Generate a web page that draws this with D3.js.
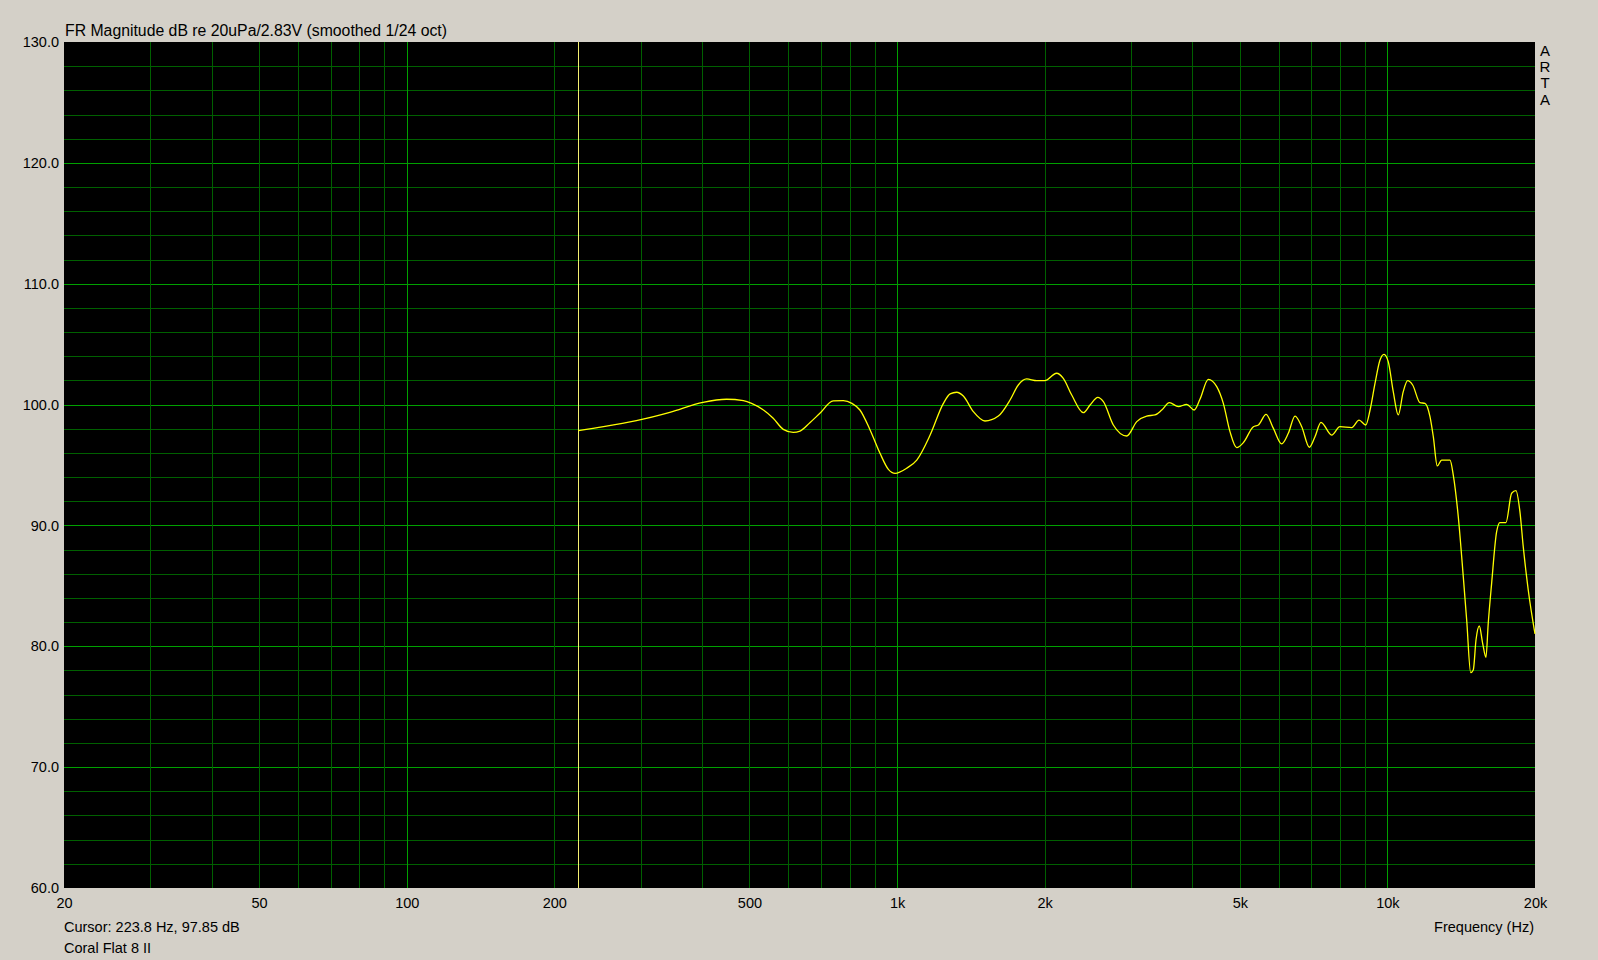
<!DOCTYPE html>
<html>
<head>
<meta charset="utf-8">
<script src="https://cdn.jsdelivr.net/npm/d3@7/dist/d3.min.js"></script>
<style>
  html, body { margin: 0; padding: 0; background: #d4d0c8; overflow: hidden; }
  svg { display: block; }
  text { font-family: "Liberation Sans", Arial, sans-serif; fill: #000; }
</style>
</head>
<body>
<svg id="chart" width="1598" height="960"></svg>
<script>
// ---- Data ----
const freqHz = [223.8, 252, 294, 344, 402, 449, 486, 505, 534, 559, 586, 614, 634, 664, 696, 741, 777, 809, 840, 881, 923, 960, 991,
  1046, 1097, 1168, 1243, 1283, 1323, 1365, 1431, 1511, 1609, 1700, 1767, 1838, 1927, 2000, 2115, 2183, 2271, 2398, 2475, 2567, 2635,
  2761, 2940, 3082, 3229, 3358, 3466, 3592, 3747, 3897, 4034, 4147, 4313, 4487, 4628, 4775, 4928, 5084, 5330, 5456, 5657, 5855, 6087,
  6280, 6481, 6688, 6930, 7117, 7321, 7697, 8003, 8457, 8754, 9033, 9218, 9435, 9659, 9842, 10040, 10279, 10523, 10773, 10999, 11260,
  11654, 11931, 12214, 12406, 12639, 12901, 13417, 13626, 13950, 14281, 14511, 14786, 14968, 15160, 15396, 15641, 15885, 16057, 16315,
  16703, 16963, 17449, 17921, 18288, 18633, 18925, 19375, 20000];
const magDb = [97.85, 98.17, 98.67, 99.36, 100.19, 100.44, 100.32, 100.10, 99.55, 98.87, 97.95, 97.70, 97.81, 98.50, 99.28, 100.30, 100.32, 100.10, 99.55, 97.90, 95.97, 94.64, 94.31,
  94.73, 95.41, 97.48, 100.10, 100.88, 101.02, 100.71, 99.41, 98.64, 99.05, 100.38, 101.62, 102.12, 101.98, 101.98, 102.59, 102.17, 100.79, 99.33, 99.96, 100.60, 100.24,
  98.31, 97.40, 98.59, 99.05, 99.14, 99.55, 100.16, 99.83, 100.02, 99.55, 100.44, 102.09, 101.48, 100.10, 97.76, 96.44, 96.85, 98.17, 98.31, 99.19, 98.03, 96.74,
  97.62, 99.05, 98.17, 96.47, 97.34, 98.53, 97.48, 98.17, 98.10, 98.72, 98.31, 99.55, 101.76, 103.69, 104.16, 103.55, 101.07, 99.14, 101.07, 101.98, 101.62,
  100.16, 100.10, 99.00, 97.34, 94.92, 95.41, 95.41, 94.17, 90.72, 85.76, 82.18, 77.82, 78.04, 80.52, 81.68, 80.25, 79.09, 81.90, 85.21,
  89.48, 90.23, 90.23, 92.66, 92.88, 91.14, 88.25, 84.66, 81.02];

const xTickValues = [20, 50, 100, 200, 500, 1000, 2000, 5000, 10000, 20000];
const xTickLabels = ["20", "50", "100", "200", "500", "1k", "2k", "5k", "10k", "20k"];
const yTickValues = [60, 70, 80, 90, 100, 110, 120, 130];
const cursorFreq = 223.8;
const cursorDb = 97.85;
const titleText = "FR Magnitude dB re 20uPa/2.83V (smoothed 1/24 oct)";
const cursorText = "Cursor: 223.8 Hz, 97.85 dB";
const deviceName = "Coral Flat 8 II";
const xAxisTitle = "Frequency (Hz)";
const brand = ["A", "R", "T", "A"];

// ---- Layout ----
const L = 64, R = 1535, T = 42, B = 888;
const svg = d3.select("#chart");
const x = d3.scaleLog().domain([20, 20000]).range([L, R]);
const y = d3.scaleLinear().domain([60, 130]).range([B, T]);
const px = v => Math.round(v) + 0.5;

svg.append("rect").attr("x", L).attr("y", T).attr("width", R - L).attr("height", B - T).attr("fill", "#000");

// grid frequencies
const gridF = [];
[10, 100, 1000].forEach(dec => { for (let k = 1; k <= 9; k++) { const f = dec * k; if (f >= 20 && f <= 20000) gridF.push(f); } });
gridF.push(10000, 20000);
const majorF = new Set([100, 1000, 10000]);
const gridDb = d3.range(60, 131, 2);

const g = svg.append("g").attr("shape-rendering", "crispEdges");
g.selectAll("line.h").data(gridDb.filter(d => d > 60 && d < 130)).join("line")
  .attr("x1", L).attr("x2", R)
  .attr("y1", d => px(y(d))).attr("y2", d => px(y(d)))
  .attr("stroke", d => d % 10 === 0 ? "#00a000" : "#006000").attr("stroke-width", 1);
g.selectAll("line.v").data(gridF.filter(f => f > 20 && f < 20000)).join("line")
  .attr("y1", T).attr("y2", B)
  .attr("x1", d => px(x(d))).attr("x2", d => px(x(d)))
  .attr("stroke", d => majorF.has(d) ? "#00a000" : "#006000").attr("stroke-width", 1);

// cursor line
g.append("line").attr("x1", px(x(cursorFreq))).attr("x2", px(x(cursorFreq)))
  .attr("y1", T).attr("y2", B).attr("stroke", "#f4f070").attr("stroke-width", 1);

// curve
const pts = freqHz.map((f, i) => [f, magDb[i]]);
const line = d3.line().x(d => x(d[0])).y(d => y(d[1])).curve(d3.curveMonotoneX);
svg.append("path").attr("d", line(pts)).attr("fill", "none")
  .attr("stroke", "#ffff00").attr("stroke-width", 1.3).attr("stroke-linejoin", "round");

// axes
const xAxis = d3.axisBottom(x).tickValues(xTickValues)
  .tickFormat((d, i) => xTickLabels[i]).tickSize(0).tickPadding(10);
const xa = svg.append("g").attr("transform", `translate(0,${B})`).call(xAxis);
xa.select(".domain").remove();
xa.selectAll("text").attr("font-size", "14.5px").attr("font-family", "Liberation Sans, Arial, sans-serif").attr("fill", "#000");

const yAxis = d3.axisLeft(y).tickValues(yTickValues).tickFormat(d3.format(".1f")).tickSize(0).tickPadding(5);
const ya = svg.append("g").attr("transform", `translate(${L},0)`).call(yAxis);
ya.select(".domain").remove();
ya.selectAll("text").attr("font-size", "14.5px").attr("font-family", "Liberation Sans, Arial, sans-serif").attr("fill", "#000");

// texts
svg.append("text").attr("x", 65).attr("y", 36).attr("font-size", "15.8px").text(titleText);
svg.append("text").attr("x", 64).attr("y", 932).attr("font-size", "14.5px").text(cursorText);
svg.append("text").attr("x", 64).attr("y", 953).attr("font-size", "14.5px").text(deviceName);
svg.append("text").attr("x", 1534).attr("y", 932).attr("text-anchor", "end").attr("font-size", "14.5px").text(xAxisTitle);
svg.selectAll("text.brand").data(brand).join("text")
  .attr("x", 1545).attr("y", (d, i) => 56 + i * 16.2).attr("text-anchor", "middle")
  .attr("font-size", "15px").text(d => d);
</script>
</body>
</html>
